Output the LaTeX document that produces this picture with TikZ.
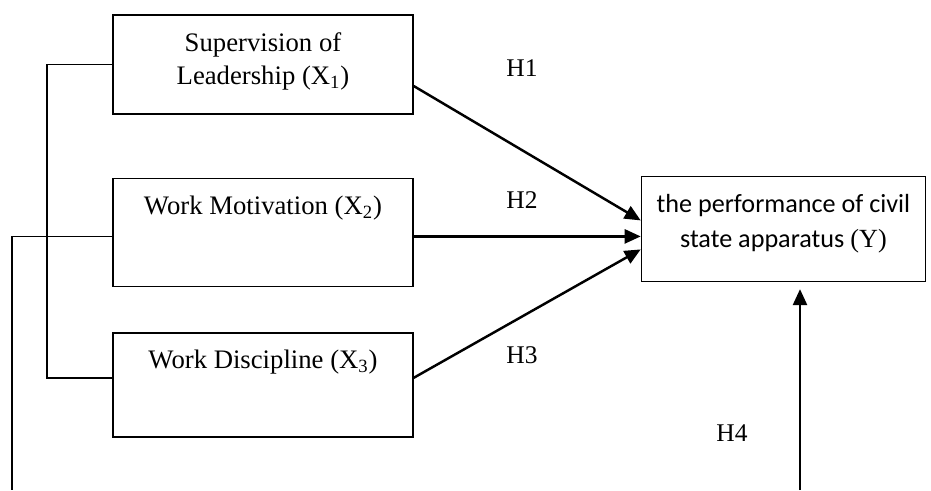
\documentclass[tikz,border=0pt]{standalone}
\usepackage{fontspec}
\setmainfont{Liberation Serif}
\newfontfamily\calibrifont{Carlito}
\usetikzlibrary{arrows.meta, positioning, calc}

\begin{document}
\begin{tikzpicture}[thick,
    box/.style={draw, rectangle, line width=0.8pt, minimum width=6cm, inner sep=0pt},
    boxtext/.style={anchor=north, align=center, inner sep=0pt, yshift=-0.35cm, font=\fontsize{15.2}{18.8}\selectfont},
    hyp/.style={font=\fontsize{14.5}{17}\selectfont},
    link/.style={line width=0.8pt},
    effect/.style={-{Triangle[length=0.32cm, width=0.28cm]}, line width=1.4pt}]

    \useasboundingbox (0,0) rectangle (18.62,-9.8);

    % Independent variables (left column)
    \node (x1) [box, minimum height=1.98cm, label={[boxtext]north:Supervision of\\Leadership (X\textsubscript{1})}] at (5.26,-1.29) {};
    \node (x2) [box, minimum height=2.16cm, below=1.26cm of x1, label={[boxtext]north:Work Motivation (X\textsubscript{2})}] {};
    \node (x3) [box, minimum height=2.08cm, below=0.9cm of x2, label={[boxtext]north:Work Discipline (X\textsubscript{3})}] {};

    % Dependent variable
    \node (y) [box, minimum width=5.68cm, minimum height=2.1cm, right=4.54cm of x2, yshift=0.07cm,
        label={[boxtext, font=\calibrifont\fontsize{14.9}{20}\selectfont]north:the performance of civil\\state apparatus {\rmfamily(Y)}}] {};

    % Hypothesis labels
    \node (h1) [hyp] at (10.44,-1.36) {H1};
    \node (h2) [hyp] at (10.44,-4.0) {H2};
    \node (h3) [hyp] at (10.44,-7.1) {H3};
    \node (h4) [hyp] at (14.64,-8.66) {H4};

    % Free ends
    \coordinate (brace) at (0.94,0);
    \coordinate (outfoot) at (0.24,-9.8);
    \coordinate (h4foot) at (16.0,-9.8);

    % Partial effects
    \draw[effect] ([yshift=-0.43cm]x1.east) -- ([yshift=0.17cm]y.west);
    \draw[effect] ([yshift=-0.08cm]x2.east) -- ([yshift=-0.08cm]x2.east -| y.west);
    \draw[effect] ([yshift=0.14cm]x3.east) -- ([yshift=-0.41cm]y.west);

    % Simultaneous effect
    \draw[link] (x1.west) -| ([yshift=0.14cm]x3.west -| brace) -- ([yshift=0.14cm]x3.west);
    \draw[link] ([yshift=-0.08cm]x2.west) -| (outfoot);
    \draw[effect] (h4foot) -- ($(y.south -| h4foot)+(0,-0.14)$);
\end{tikzpicture}
\end{document}
